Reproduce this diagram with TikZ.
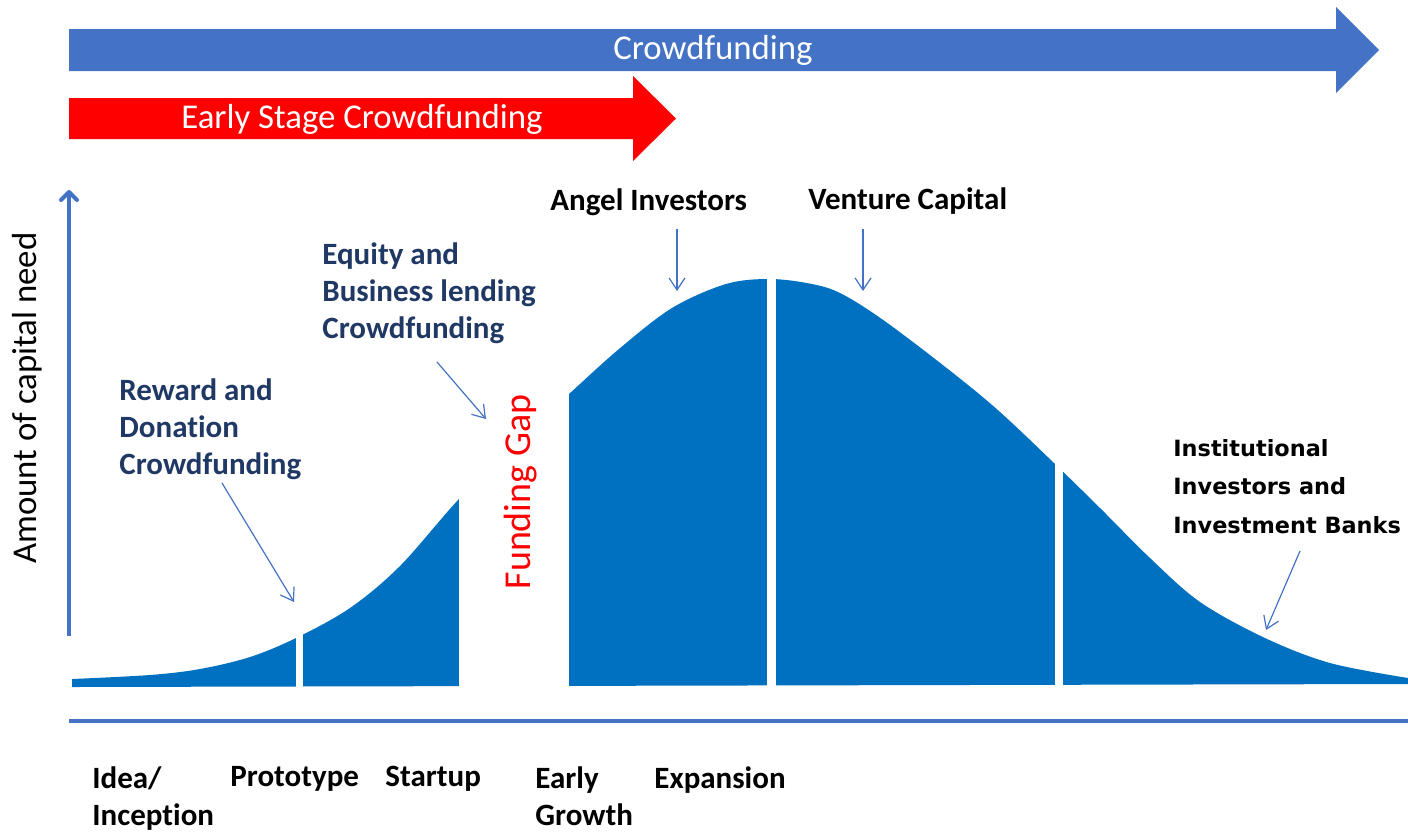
\documentclass[tikz,border=0pt]{standalone}
\usepackage{fontspec}
\setmainfont{Carlito}[Ligatures=NoCommon]
\newfontfamily\dvfont{DejaVu Sans}
\usetikzlibrary{arrows.meta}
\definecolor{arrowblue}{HTML}{4472C4}
\definecolor{curveblue}{HTML}{0070C0}
\definecolor{navylbl}{HTML}{1F3864}
\definecolor{gapred}{HTML}{FF0000}
\begin{document}
\begin{tikzpicture}[x=0.5pt,y=-0.5pt,
  bandtext/.style={text=white,font=\fontsize{17.4}{20}\selectfont,inner sep=0pt},
  navytext/.style={text=navylbl,font=\fontsize{15.5}{18.5}\selectfont\bfseries,inner sep=0pt,anchor=north west,align=left},
  blacktext/.style={text=black,font=\fontsize{15.5}{18.5}\selectfont\bfseries,inner sep=0pt,anchor=north west,align=left},
  insttext/.style={text=black,font=\dvfont\fontsize{11.2}{19.2}\selectfont\bfseries,inner sep=0pt,anchor=north west,align=left},
  pointer/.style={draw=arrowblue,line width=0.6pt,-{Straight Barb[length=6pt,width=8pt]}},
  axis/.style={draw=arrowblue,line width=2pt},
  gapbar/.style={fill=white}
]
\useasboundingbox (0,0) rectangle (1408,832);

% top banner arrows
\fill[arrowblue] (69,29) -- (1336,29) -- (1336,7) -- (1379,50) -- (1336,93) -- (1336,71) -- (69,71) -- cycle;
\node[bandtext] (crowd) at (713,50) {Crowdfunding};
\fill[gapred] (69,98) -- (633,98) -- (633,76) -- (676,118.5) -- (633,161) -- (633,139) -- (69,139) -- cycle;
\node[bandtext] (early) at (362,119) {Early Stage Crowdfunding};

% curve
\fill[curveblue] (72,687) -- plot[smooth,tension=0.55] coordinates {(72,679) (150,675) (200,669) (250,657) (296,638) (350,608) (400,566) (458,500) (515,443) (569,394) (619,349) (672,308) (726,284) (770,279) (812,284) (842,294) (886,322) (953,373) (1000,412) (1054,463) (1100,508) (1150,558) (1200,602) (1265,638) (1330,663) (1408,678)} -- (1408,684) -- cycle;
\fill[gapbar] (296,600) rectangle (303,700);
\fill[gapbar] (459,370) rectangle (569,700);
\fill[gapbar] (767,260) rectangle (776,700);
\fill[gapbar] (1055,430) rectangle (1063,700);

% axes
\coordinate (ybot) at (69,636);
\coordinate (ytop) at (69,190);
\draw[axis,-{Straight Barb[length=4pt,width=8pt,line cap=round,line join=round]}] (ybot) -- (ytop);
\coordinate (xleft) at (69,721);
\coordinate (xright) at (1408,721);
\draw[axis] (xleft) -- (xright);

\node[rotate=90,font=\fontsize{17.4}{20}\selectfont,inner sep=0pt] (ylabel) at (27,398) {Amount of capital need};
\node[rotate=90,text=gapred,font=\fontsize{19}{22}\selectfont,inner sep=0pt] (gap) at (521,492) {Funding Gap};

% labels
\node[navytext] (reward) at (119,378) {Reward and\\Donation\\Crowdfunding};
\node[navytext] (equity) at (322,242) {Equity and\\Business lending\\Crowdfunding};
\node[blacktext] (angel) at (550,188) {Angel Investors};
\node[blacktext] (venture) at (808,187) {Venture Capital};
\node[insttext] (inst) at (1173,439) {Institutional\\Investors and\\Investment Banks};

% stage labels
\node[blacktext] (idea) at (92,766) {Idea/\\Inception};
\node[blacktext] (proto) at (230,766) {Prototype};
\node[blacktext] (startup) at (385,766) {Startup};
\node[blacktext] (growth) at (535,766) {Early\\Growth};
\node[blacktext] (expansion) at (654,766) {Expansion};

% pointers
\coordinate (rewardS) at (222,483);
\coordinate (rewardE) at (294,602);
\coordinate (equityS) at (437,362);
\coordinate (equityE) at (486,419);
\coordinate (angelS) at (677,229);
\coordinate (angelE) at (677,291);
\coordinate (ventureS) at (863,229);
\coordinate (ventureE) at (863,291);
\coordinate (instS) at (1300,551);
\coordinate (instE) at (1266,630);
\draw[pointer] (rewardS) -- (rewardE);
\draw[pointer] (equityS) -- (equityE);
\draw[pointer] (angelS) -- (angelE);
\draw[pointer] (ventureS) -- (ventureE);
\draw[pointer] (instS) -- (instE);
\end{tikzpicture}
\end{document}
